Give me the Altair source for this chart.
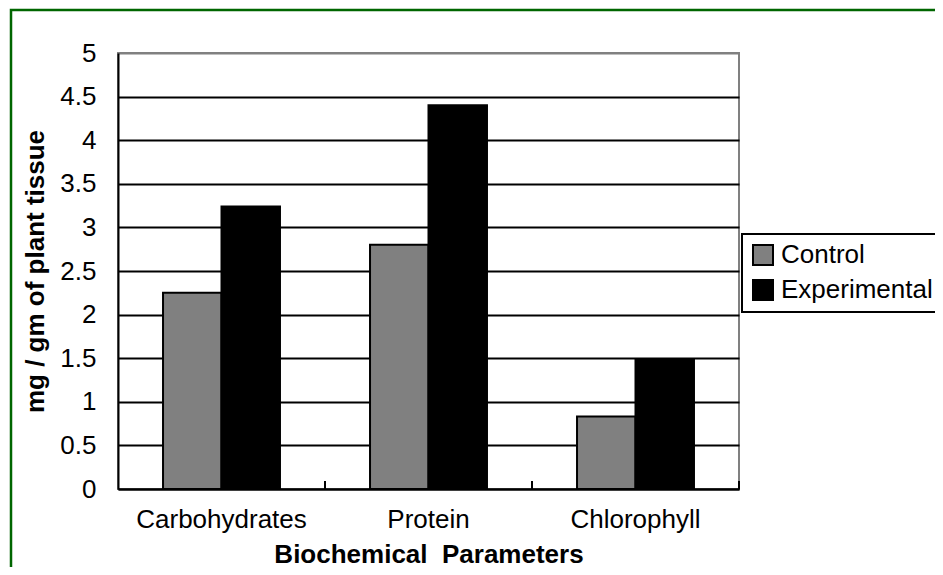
import altair as alt
import pandas as pd

categories = ["Carbohydrates", "Protein", "Chlorophyll"]
series = ["Control", "Experimental"]
control = [2.25, 2.80, 0.83]
experimental = [3.24, 4.40, 1.49]
y_ticks = [0, 0.5, 1, 1.5, 2, 2.5, 3, 3.5, 4, 4.5, 5]
colors = ["#808080", "#000000"]

rows = []
for c, v1, v2 in zip(categories, control, experimental):
    rows.append({"category": c, "series": series[0], "value": v1})
    rows.append({"category": c, "series": series[1], "value": v2})
df = pd.DataFrame(rows)

W, H = 621, 436
FONT = "Liberation Sans"

frame = alt.Chart(pd.DataFrame({"k": [0]})).mark_rect(
    filled=False, stroke="#006600", strokeWidth=2.5
).encode(
    x=alt.value(-107), x2=alt.value(1000), y=alt.value(-43), y2=alt.value(700)
)

bars = alt.Chart(df).mark_bar(stroke="black", strokeWidth=2).encode(
    x=alt.X(
        "category:N",
        sort=categories,
        scale=alt.Scale(paddingInner=0, paddingOuter=0),
        axis=alt.Axis(
            title="Biochemical\u00a0 Parameters",
            labelAngle=0,
            labelFontSize=26,
            labelPadding=17,
            ticks=False,
            domainColor="black",
            domainWidth=2,
            titleFontSize=26,
            titleFontWeight="bold",
            titlePadding=9,
        ),
    ),
    xOffset=alt.XOffset(
        "series:N", sort=series, scale=alt.Scale(paddingInner=0, paddingOuter=0.77)
    ),
    y=alt.Y(
        "value:Q",
        scale=alt.Scale(domain=[0, 5], nice=False),
        axis=alt.Axis(
            values=y_ticks,
            format="~g",
            grid=True,
            gridColor={"condition": {"test": "datum.value >= 5", "value": "#808080"}, "value": "black"},
            gridWidth=2,
            gridOpacity=1,
            ticks=False,
            domainColor="black",
            domainWidth=2,
            labelFontSize=26,
            labelPadding=22,
            title="mg / gm of plant tissue",
            titleFontSize=26,
            titleFontWeight="bold",
            titlePadding=11,
        ),
    ),
    color=alt.Color(
        "series:N",
        sort=series,
        scale=alt.Scale(domain=series, range=colors),
        legend=alt.Legend(
            title=None,
            orient="none",
            legendX=624,
            legendY=181,
            symbolType="square",
            symbolSize=400,
            symbolStrokeColor="black",
            symbolStrokeWidth=2,
            symbolOpacity=1,
            labelFontSize=26,
            labelFont=FONT,
            labelColor="black",
            labelOffset=5,
            strokeColor="black",
            fillColor="white",
            padding=8,
            rowPadding=7,
        ),
    ),
)

ticks = alt.Chart(pd.DataFrame({"category": categories})).mark_rule(
    color="black", strokeWidth=2
).encode(
    x=alt.X("category:N", sort=categories, bandPosition=1),
    y=alt.value(H - 8),
    y2=alt.value(H),
)

chart = (
    alt.layer(frame, bars, ticks)
    .properties(
        width=W,
        height=H,
        autosize=alt.AutoSizeParams(type="none"),
        padding={"left": 110, "top": 45, "right": 196, "bottom": 78},
        background="white",
    )
    .configure_view(stroke="#808080", strokeWidth=2)
    .configure_axis(
        labelFont=FONT,
        titleFont=FONT,
        labelColor="black",
        titleColor="black",
    )
    .configure_legend(strokeWidth=2)
)

chart.save("out.html", embed_options={"renderer": "svg", "actions": False})
